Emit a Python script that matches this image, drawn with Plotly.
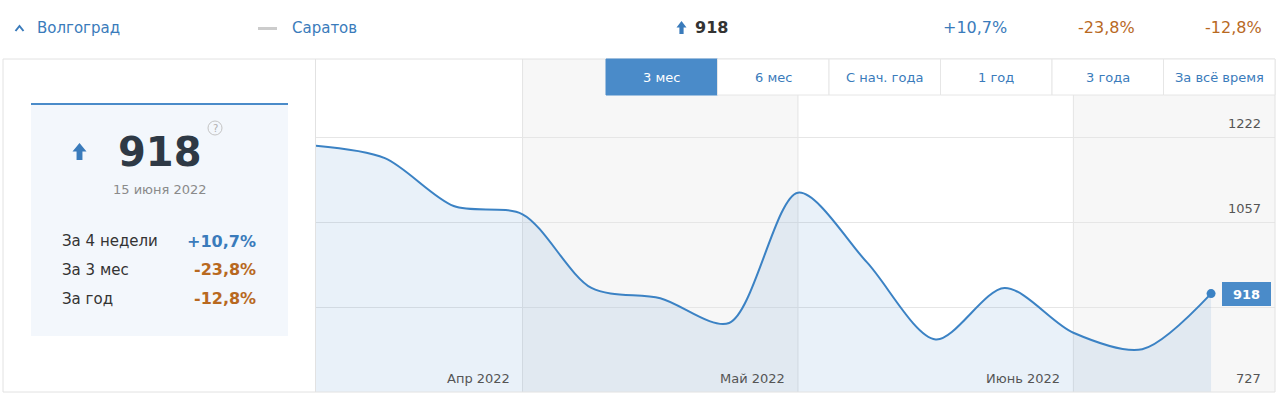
import plotly.graph_objects as go

# ---------------- data ----------------
dates = ['2022-03-16', '2022-03-23', '2022-03-30', '2022-04-06', '2022-04-13',
         '2022-04-20', '2022-04-27', '2022-05-04', '2022-05-11', '2022-05-18',
         '2022-05-25', '2022-06-01', '2022-06-08', '2022-06-15']
values = [1205, 1181, 1088, 1072, 929, 909, 861, 1114, 979, 829, 929, 842, 810, 918]

ytick_vals = [727, 892, 1057, 1222]
ytick_text = ['727', '', '1057', '1222']

band_edges = ['2022-04-06', '2022-05-04', '2022-06-01']
month_labels = ['Апр 2022', 'Май 2022', 'Июнь 2022']
x_start = '2022-03-16'
x_end = '2022-06-21 12:00'

tabs = ['3 мес', '6 мес', 'С нач. года', '1 год', '3 года', 'За всё время']
active_tab = 0

city_main = 'Волгоград'
city_other = 'Саратов'
last_value = '918'
last_date = '15 июня 2022'
period_names = ['За 4 недели', 'За 3 мес', 'За год']
period_changes = ['+10,7%', '-23,8%', '-12,8%']

# ---------------- style ----------------
W, H = 1280, 398
FONT = 'DejaVu Sans'
BLUE = '#3b82c4'
TXT_BLUE = '#3a7bbb'
ORANGE = '#b8691f'
DARK = '#333333'
GRID = '#e6e6e6'
BAND = '#f7f7f7'
BORDER = '#e2e2e2'


def px(p):
    return p / W


def py(p):
    return 1 - p / H


fig = go.Figure()

fig.add_trace(go.Scatter(
    x=dates, y=values, mode='lines',
    line=dict(color=BLUE, width=2, shape='spline', smoothing=0.85),
    fill='tozeroy', fillcolor='rgba(59,130,196,0.11)',
    hoverinfo='skip', showlegend=False))
fig.add_trace(go.Scatter(
    x=[dates[-1]], y=[values[-1]], mode='markers',
    marker=dict(color=BLUE, size=9), hoverinfo='skip', showlegend=False))

shapes = []
annotations = []

# bands (alternating shading)
edges = band_edges + [x_end]
for i in range(len(band_edges)):
    if i % 2 == 0:
        shapes.append(dict(type='rect', xref='x', yref='paper', x0=edges[i], x1=edges[i + 1],
                           y0=py(392), y1=py(59), fillcolor=BAND, line=dict(width=0), layer='below'))
for e in band_edges:
    shapes.append(dict(type='line', xref='x', yref='paper', x0=e, x1=e, y0=py(392), y1=py(59),
                       line=dict(color='#e4e4e4', width=1), layer='below'))

for e, lab in zip(band_edges, month_labels):
    annotations.append(dict(x=e, xref='x', y=py(378), yref='paper', text=lab, showarrow=False,
                            xanchor='right', yanchor='middle', xshift=-11,
                            font=dict(family=FONT, size=13, color='#555555')))

for v, t in zip(ytick_vals, ytick_text):
    if t:
        annotations.append(dict(x=px(1263), xref='paper', y=v, yref='y', text=t, showarrow=False,
                                xanchor='right', yanchor='middle', yshift=14,
                                font=dict(family=FONT, size=13, color='#555555')))

# value badge
annotations.append(dict(x=px(1246), xref='paper', y=values[-1], yref='y', text='<b>%s</b>' % last_value,
                        showarrow=False, xanchor='center', yanchor='middle',
                        bgcolor='#4a8bc9', bordercolor='#4a8bc9', borderwidth=1, borderpad=2,
                        width=43, height=18,
                        font=dict(family=FONT, size=13, color='white')))

# outer frame
shapes.append(dict(type='rect', xref='paper', yref='paper', x0=px(3), x1=px(1275), y0=py(392), y1=py(59),
                   line=dict(color=BORDER, width=1), fillcolor='rgba(0,0,0,0)', layer='above'))
shapes.append(dict(type='line', xref='paper', yref='paper', x0=px(315.5), x1=px(315.5), y0=py(392), y1=py(59),
                   line=dict(color=BORDER, width=1), layer='above'))

# tabs
tab_x0, tab_x1 = 606, 1275
tw = (tab_x1 - tab_x0) / len(tabs)
for i, t in enumerate(tabs):
    a = tab_x0 + i * tw
    active = i == active_tab
    shapes.append(dict(type='rect', xref='paper', yref='paper', x0=px(a), x1=px(a + tw),
                       y0=py(95), y1=py(59),
                       fillcolor='#4a8bc9' if active else 'white',
                       line=dict(color='#4a8bc9' if active else '#e6e6e6', width=1), layer='above'))
    annotations.append(dict(x=px(a + tw / 2), xref='paper', y=py(77.5), yref='paper', text=t, showarrow=False,
                            xanchor='center', yanchor='middle',
                            font=dict(family=FONT, size=13, color='white' if active else TXT_BLUE)))


def arrow_path(cx, top, bottom, w):
    mid = top + (bottom - top) * 0.5
    sw = w * 0.42
    pts = [(cx, top), (cx + w / 2, mid), (cx + sw / 2, mid), (cx + sw / 2, bottom),
           (cx - sw / 2, bottom), (cx - sw / 2, mid), (cx - w / 2, mid)]
    return 'M ' + ' L '.join('%f,%f' % (px(x), py(y)) for x, y in pts) + ' Z'


# header
shapes.append(dict(type='path', xref='paper', yref='paper',
                   path='M %f,%f L %f,%f L %f,%f' % (px(15.5), py(31), px(19.5), py(26), px(23.5), py(31)),
                   line=dict(color=TXT_BLUE, width=2), layer='above'))
annotations.append(dict(x=px(35), xref='paper', y=py(28), yref='paper', text=city_main, showarrow=False,
                        xanchor='left', yanchor='middle', font=dict(family=FONT, size=15, color=TXT_BLUE)))
shapes.append(dict(type='line', xref='paper', yref='paper', x0=px(258), x1=px(277), y0=py(28.5), y1=py(28.5),
                   line=dict(color='#cccccc', width=3), layer='above'))
annotations.append(dict(x=px(290), xref='paper', y=py(28), yref='paper', text=city_other, showarrow=False,
                        xanchor='left', yanchor='middle', font=dict(family=FONT, size=15, color=TXT_BLUE)))
shapes.append(dict(type='path', xref='paper', yref='paper', path=arrow_path(681.5, 21, 34, 10),
                   fillcolor='#3a7bbb', line=dict(width=0), layer='above'))
annotations.append(dict(x=px(693), xref='paper', y=py(28), yref='paper', text='<b>%s</b>' % last_value,
                        showarrow=False, xanchor='left', yanchor='middle',
                        font=dict(family=FONT, size=16, color=DARK)))
head_pos = [1009, 1137, 1264]
for xr, ch in zip(head_pos, period_changes):
    annotations.append(dict(x=px(xr), xref='paper', y=py(28), yref='paper', text=ch, showarrow=False,
                            xanchor='right', yanchor='middle',
                            font=dict(family=FONT, size=16, color=TXT_BLUE if ch.startswith('+') else ORANGE)))

# left card
shapes.append(dict(type='rect', xref='paper', yref='paper', x0=px(31), x1=px(288), y0=py(336), y1=py(104),
                   fillcolor='#f3f7fc', line=dict(width=0), layer='above'))
shapes.append(dict(type='line', xref='paper', yref='paper', x0=px(31), x1=px(288), y0=py(104), y1=py(104),
                   line=dict(color='#4a8bc9', width=2), layer='above'))
shapes.append(dict(type='path', xref='paper', yref='paper', path=arrow_path(79.5, 143, 160, 14),
                   fillcolor='#3a7bbb', line=dict(width=0), layer='above'))
annotations.append(dict(x=px(160), xref='paper', y=py(152), yref='paper', text='<b>%s</b>' % last_value,
                        showarrow=False, xanchor='center', yanchor='middle',
                        font=dict(family=FONT, size=40, color='#2e3945')))
shapes.append(dict(type='circle', xref='paper', yref='paper', x0=px(208), x1=px(222), y0=py(135), y1=py(121),
                   line=dict(color='#c4c4c4', width=1), fillcolor='rgba(0,0,0,0)', layer='above'))
annotations.append(dict(x=px(215), xref='paper', y=py(128), yref='paper', text='?', showarrow=False,
                        xanchor='center', yanchor='middle', font=dict(family=FONT, size=10, color='#b0b0b0')))
annotations.append(dict(x=px(160), xref='paper', y=py(189.5), yref='paper', text=last_date, showarrow=False,
                        xanchor='center', yanchor='middle', font=dict(family=FONT, size=13, color='#8a8a8a')))
row_y = [241, 269.5, 298.5]
for yy, nm, ch in zip(row_y, period_names, period_changes):
    annotations.append(dict(x=px(60), xref='paper', y=py(yy), yref='paper', text=nm, showarrow=False,
                            xanchor='left', yanchor='middle', font=dict(family=FONT, size=15, color=DARK)))
    annotations.append(dict(x=px(258), xref='paper', y=py(yy), yref='paper', text='<b>%s</b>' % ch,
                            showarrow=False, xanchor='right', yanchor='middle',
                            font=dict(family=FONT, size=16,
                                      color=TXT_BLUE if ch.startswith('+') else ORANGE)))

fig.update_layout(
    width=W, height=H, margin=dict(l=0, r=0, t=0, b=0),
    paper_bgcolor='white', plot_bgcolor='white',
    xaxis=dict(domain=[px(316), px(1275)], range=[x_start, x_end], type='date',
               showgrid=False, showticklabels=False, zeroline=False, showline=False, fixedrange=True),
    yaxis=dict(domain=[py(392), py(59)], range=[727, 727 + (392 - 59) * 165 / 85],
               tickvals=ytick_vals, showticklabels=False, showgrid=True, gridcolor=GRID,
               zeroline=False, showline=False, fixedrange=True),
    shapes=shapes, annotations=annotations, showlegend=False,
    font=dict(family=FONT),
)

fig.write_html('out.html', config={'displayModeBar': False},
               post_script="document.body.style.margin='0';document.body.style.overflow='hidden';")
